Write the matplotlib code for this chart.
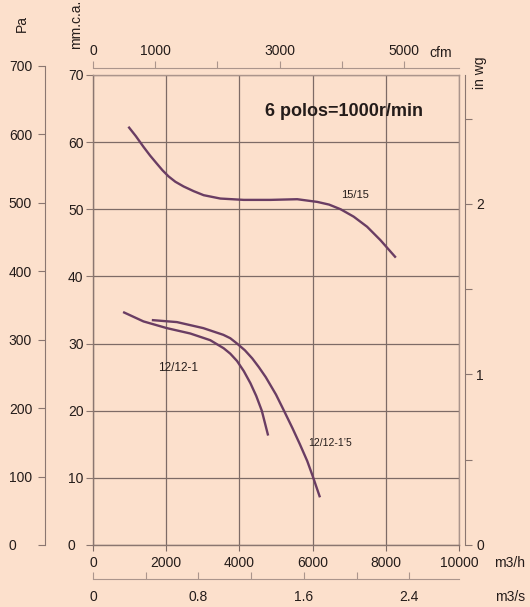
"""
Fan curve chart, 6 poles = 1000 r/min (static pressure vs. flow).
"""

import matplotlib
matplotlib.use("Agg")
import matplotlib.pyplot as plt

plt.rcParams["font.family"] = ["Liberation Sans", "DejaVu Sans"]

# ---- data ----
flow_15 = [967, 1170, 1379, 1560, 1744, 1900, 2064, 2250, 2475, 2750, 3023, 3479, 4119,
           4849, 5580, 6128, 6450, 6767, 7123, 7489, 7854, 8274]
pres_15 = [62.3, 60.9, 59.3, 58.0, 56.8, 55.8, 54.9, 54.1, 53.4, 52.7, 52.1, 51.6, 51.4,
           51.4, 51.5, 51.1, 50.7, 50.0, 48.9, 47.4, 45.4, 42.8]

flow_12_1 = [822, 1379, 2018, 2658, 3205, 3571, 3750, 3936, 4120, 4301, 4460, 4612, 4785]
pres_12_1 = [34.7, 33.3, 32.3, 31.5, 30.5, 29.3, 28.5, 27.4, 25.9, 24.1, 22.2, 20.0, 16.3]

flow_12_15 = [1607, 2292, 3014, 3562, 3750, 3936, 4150, 4350, 4530, 4720, 5000, 5200,
              5450, 5653, 5854, 6000, 6201]
pres_12_15 = [33.5, 33.2, 32.3, 31.3, 30.8, 30.0, 29.0, 27.8, 26.5, 25.0, 22.4, 20.2,
              17.4, 15.0, 12.5, 10.3, 7.1]

curve_labels = ["15/15", "12/12-1", "12/12-1\u20195"]

mm_ticks = [0, 10, 20, 30, 40, 50, 60, 70]
pa_ticks = [0, 100, 200, 300, 400, 500, 600, 700]
inwg_ticks = [0, 0.5, 1, 1.5, 2, 2.5]
inwg_labels = ["0", "", "1", "", "2", ""]
m3h_ticks = [0, 2000, 4000, 6000, 8000, 10000]
cfm_ticks = [0, 1000, 2000, 3000, 4000, 5000]
cfm_labels = ["0", "1000", "", "3000", "", "5000"]
m3s_ticks = [0, 0.4, 0.8, 1.2, 1.6, 2.0, 2.4]
m3s_labels = ["0", "", "0.8", "", "1.6", "", "2.4"]

TITLE = "6 polos=1000r/min"

# ---- style ----
BG = "#fce0cc"
TXT = "#241c1a"
GRID = "#7d6b66"
SPINE = "#8a7670"
FRAME = "#ab958c"
CURVE = "#6a3d63"

W, H = 530, 607
MM_MAX = 70
PA_PER_MM = 9.80665


def box(l, t, r, b):
    return [l / W, 1 - b / H, (r - l) / W, (b - t) / H]


def bare(ax):
    ax.patch.set_visible(False)
    for s in ax.spines.values():
        s.set_visible(False)


fig = plt.figure(figsize=(W / 100, H / 100), dpi=100, facecolor=BG)

# main plot: m3/h vs mm.c.a.
ax = fig.add_axes(box(93, 75, 459, 545))
ax.set_facecolor(BG)
ax.set_xlim(0, 10000)
ax.set_ylim(0, MM_MAX)
for s in ["top", "right"]:
    ax.spines[s].set_color(FRAME)
for s in ["left", "bottom"]:
    ax.spines[s].set_color(SPINE)
for s in ax.spines.values():
    s.set_linewidth(1.0)
ax.set_xticks(m3h_ticks)
ax.set_yticks(mm_ticks)
ax.grid(True, color=GRID, linewidth=0.9)
ax.tick_params(axis="x", direction="out", length=4, color=GRID, labelsize=10,
               labelcolor=TXT, pad=4)
ax.tick_params(axis="y", direction="out", length=5, color=SPINE, labelsize=10,
               labelcolor=TXT, pad=13)
for lbl in ax.get_yticklabels():
    lbl.set_horizontalalignment("left")

ax.plot(flow_15, pres_15, color=CURVE, lw=1.7, solid_capstyle="butt")
ax.plot(flow_12_1, pres_12_1, color=CURVE, lw=1.7, solid_capstyle="butt")
ax.plot(flow_12_15, pres_12_15, color=CURVE, lw=1.7, solid_capstyle="butt")

ax.text(7150, 52.2, curve_labels[0], fontsize=8, color=TXT, ha="center", va="center")
ax.text(2330, 26.4, curve_labels[1], fontsize=8.5, color=TXT, ha="center", va="center")
ax.text(6470, 15.2, curve_labels[2], fontsize=7.5, color=TXT, ha="center", va="center")
ax.text(6850, 64.5, TITLE, fontsize=13, fontweight="bold", color=TXT,
        ha="center", va="center")

# Pa axis on the far left
pa_top = 545 - 700 / PA_PER_MM * (470 / MM_MAX)
ax_pa = fig.add_axes(box(45, pa_top, 46, 545))
bare(ax_pa)
ax_pa.spines["left"].set_visible(True)
ax_pa.spines["left"].set_color(SPINE)
ax_pa.set_ylim(0, 700)
ax_pa.set_xticks([])
ax_pa.set_yticks(pa_ticks)
ax_pa.tick_params(axis="y", direction="out", length=5, color=SPINE, labelsize=10,
                  labelcolor=TXT, pad=21)
for lbl in ax_pa.get_yticklabels():
    lbl.set_horizontalalignment("left")

# in wg axis on the right
ax_in = fig.add_axes(box(464, 75, 465, 545))
bare(ax_in)
ax_in.spines["right"].set_visible(True)
ax_in.spines["right"].set_color(SPINE)
ax_in.set_ylim(0, MM_MAX / 25.4)
ax_in.set_xticks([])
ax_in.yaxis.tick_right()
ax_in.set_yticks(inwg_ticks)
ax_in.set_yticklabels(inwg_labels)
ax_in.tick_params(axis="y", direction="out", length=5, color=SPINE, labelsize=10,
                  labelcolor=TXT, pad=3)

# cfm axis on top
ax_cfm = fig.add_axes(box(93, 68, 459, 68.5))
bare(ax_cfm)
ax_cfm.spines["top"].set_visible(True)
ax_cfm.spines["top"].set_color(FRAME)
ax_cfm.set_xlim(0, 10000 / 1.699)
ax_cfm.set_yticks([])
ax_cfm.xaxis.tick_top()
ax_cfm.set_xticks(cfm_ticks)
ax_cfm.set_xticklabels(cfm_labels)
ax_cfm.tick_params(axis="x", direction="out", length=5, color=FRAME, labelsize=10,
                   labelcolor=TXT, pad=2)

# m3/s axis at the bottom
ax_s = fig.add_axes(box(93, 578.5, 459, 579))
bare(ax_s)
ax_s.spines["bottom"].set_visible(True)
ax_s.spines["bottom"].set_color(FRAME)
ax_s.set_xlim(0, 10000 / 3600)
ax_s.set_yticks([])
ax_s.set_xticks(m3s_ticks)
ax_s.set_xticklabels(m3s_labels)
ax_s.tick_params(axis="x", direction="in", length=5, color=FRAME, labelsize=10,
                 labelcolor=TXT, pad=8)

# unit labels
fig.text(22 / W, 1 - 24 / H, "Pa", fontsize=10, color=TXT, rotation=90,
         ha="center", va="center")
fig.text(76 / W, 1 - 24 / H, "mm.c.a.", fontsize=10, color=TXT, rotation=90,
         ha="center", va="center")
fig.text(480 / W, 1 - 73 / H, "in wg", fontsize=10, color=TXT, rotation=90,
         ha="center", va="center")
fig.text(441 / W, 1 - 53 / H, "cfm", fontsize=10, color=TXT, ha="center", va="center")
fig.text(510 / W, 1 - 563 / H, "m3/h", fontsize=10, color=TXT, ha="center", va="center")
fig.text(510 / W, 1 - 597 / H, "m3/s", fontsize=10, color=TXT, ha="center", va="center")

fig.savefig("out.png", dpi=100, facecolor=BG)
